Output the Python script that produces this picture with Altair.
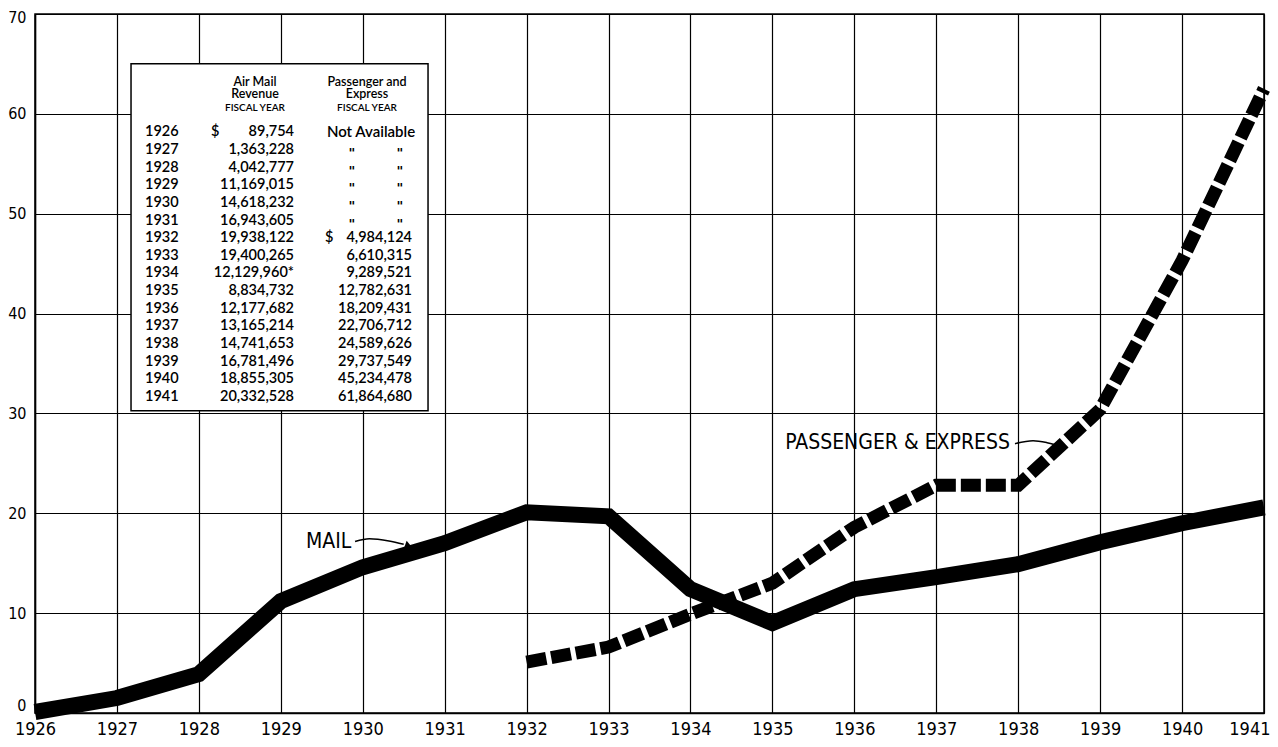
import altair as alt
import pandas as pd

# ---------------- data (millions of dollars) ----------------
years = list(range(1926, 1942))
mail_values = [0.1, 1.5, 3.9, 11.2, 14.6, 17.0, 20.1, 19.7, 12.4, 9.0, 12.4, 13.6, 14.9, 17.1, 19.0, 20.6]
pax_years = list(range(1932, 1942))
pax_values = [5.1, 6.6, 9.9, 13.0, 18.6, 22.8, 22.8, 30.4, 45.3, 62.5]

# table printed on the chart
table_years = [str(y) for y in years]
table_mail = ["89,754", "1,363,228", "4,042,777", "11,169,015", "14,618,232", "16,943,605",
              "19,938,122", "19,400,265", "12,129,960*", "8,834,732", "12,177,682", "13,165,214",
              "14,741,653", "16,781,496", "18,855,305", "20,332,528"]
table_pax = ["4,984,124", "6,610,315", "9,289,521", "12,782,631", "18,209,431", "22,706,712",
             "24,589,626", "29,737,549", "45,234,478", "61,864,680"]
header_mail = ["Air Mail", "Revenue", "FISCAL YEAR"]
header_pax = ["Passenger and", "Express", "FISCAL YEAR"]

y_ticks = [0, 10, 20, 30, 40, 50, 60, 70]

# ---------------- layout (in data units) ----------------
BOX = dict(x=1927.172, x2=1930.797, y=65.03, y2=30.27)
COL_YEAR = 1927.343
COL_DOLLAR = 1928.148
COL_MAIL = 1929.161
COL_DOLLAR2 = 1929.540
COL_PAX = 1930.601
COL_NA = 1930.101
COL_DITTO = [1929.869, 1930.455]
HEAD_X = [1928.685, 1930.052]
HEAD_Y = [63.24, 61.94, 60.54]
ROW_Y0 = 58.14
ROW_STEP = 1.765

AXIS_FONT = "'DejaVu Sans Condensed', 'Liberation Sans Narrow', 'DejaVu Sans', sans-serif"
TABLE_FONT = "Lato, 'Open Sans', sans-serif"

X = lambda f="x": alt.X(f"{f}:Q", scale=alt.Scale(domain=[1926, 1941], nice=False, zero=False),
                        axis=alt.Axis(values=years, format="d", title=None))
Y = lambda f="y": alt.Y(f"{f}:Q", scale=alt.Scale(domain=[0, 70], nice=False),
                        axis=alt.Axis(values=y_ticks, title=None))

mail_df = pd.DataFrame({"x": years, "y": mail_values})
pax_df = pd.DataFrame({"x": pax_years, "y": pax_values})

mail_line = alt.Chart(mail_df).mark_line(color="black", strokeWidth=16, strokeJoin="miter",
                                         strokeCap="butt").encode(x=X(), y=Y())
pax_line = alt.Chart(pax_df).mark_line(color="black", strokeWidth=13, strokeDash=[20, 5],
                                       strokeJoin="miter", strokeCap="butt").encode(x=X(), y=Y())

# table box
box = alt.Chart(pd.DataFrame([BOX])).mark_rect(fill="white", stroke="black", strokeWidth=1.5).encode(
    x=X("x"), x2="x2", y=Y("y"), y2="y2")

rows_y = [ROW_Y0 - i * ROW_STEP for i in range(len(years))]

left_txt = [{"x": COL_YEAR, "y": rows_y[i], "t": table_years[i]} for i in range(len(years))]
left_txt += [{"x": COL_DOLLAR, "y": rows_y[0], "t": "$"},
             {"x": COL_DOLLAR2, "y": rows_y[6], "t": "$"}]
right_txt = [{"x": COL_MAIL, "y": rows_y[i], "t": table_mail[i]} for i in range(len(years))]
right_txt += [{"x": COL_PAX, "y": rows_y[6 + i], "t": table_pax[i]} for i in range(len(table_pax))]
center_txt = [{"x": COL_NA, "y": rows_y[0], "t": "Not Available"}]
ditto_txt = [{"x": cx, "y": rows_y[i] - 0.3, "t": '"'} for i in range(1, 6) for cx in COL_DITTO]
head_big = [{"x": HEAD_X[0], "y": HEAD_Y[j], "t": header_mail[j]} for j in range(2)]
head_big += [{"x": HEAD_X[1], "y": HEAD_Y[j], "t": header_pax[j]} for j in range(2)]
head_small = [{"x": HEAD_X[k], "y": HEAD_Y[2], "t": "FISCAL YEAR"} for k in range(2)]


def text_layer(rows, align, size, weight=600, font=TABLE_FONT):
    return alt.Chart(pd.DataFrame(rows)).mark_text(
        align=align, baseline="middle", font=font, fontSize=size, fontWeight=weight,
        color="black"
    ).encode(x=X(), y=Y(), text="t:N")


table_layers = [
    text_layer(left_txt, "left", 14.5),
    text_layer(right_txt, "right", 14.5),
    text_layer(center_txt, "center", 15),
    text_layer(ditto_txt, "center", 13, "bold", "'DejaVu Sans', sans-serif"),
    text_layer(head_big, "center", 12.5),
    text_layer(head_small, "center", 10),
]

# annotations
labels_df = pd.DataFrame({"x": [1929.86, 1937.90], "y": [17.08, 27.07],
                          "t": ["MAIL", "PASSENGER & EXPRESS"]})
labels = alt.Chart(labels_df).mark_text(align="right", baseline="middle", font=AXIS_FONT,
                                        fontSize=21, color="black").encode(x=X(), y=Y(), text="t:N")

arrow_df = pd.DataFrame({
    "x": [1929.906, 1930.080, 1930.320, 1930.500, 1937.961, 1938.181, 1938.352, 1938.45],
    "y": [17.18, 17.45, 17.23, 16.90, 26.97, 27.27, 27.07, 26.87],
    "g": ["m"] * 4 + ["p"] * 4,
    "o": [0, 1, 2, 3, 0, 1, 2, 3],
})
arrows = alt.Chart(arrow_df).mark_line(color="black", strokeWidth=1.6, interpolate="monotone").encode(
    x=X(), y=Y(), detail="g:N", order="o:Q")
heads_df = pd.DataFrame({"x": [1930.56, 1938.52], "y": [16.72, 26.62]})
heads = alt.Chart(heads_df).mark_point(shape="triangle-right", filled=True, color="black", size=70,
                                       angle=20, opacity=1).encode(x=X(), y=Y())

chart = alt.layer(box, *table_layers, pax_line, mail_line, arrows, heads, labels).properties(
    width=1229, height=699,
    autosize=alt.AutoSizeParams(type="none"),
    padding={"left": 27, "top": 6, "right": 6, "bottom": 26},
    background="white",
).configure_view(stroke="black", strokeWidth=1.5).configure_axis(
    grid=True, gridColor="black", gridOpacity=1, gridWidth=1.2,
    domain=True, domainColor="black", domainWidth=1.5,
    ticks=False, labelColor="black", labelFont=AXIS_FONT,
).configure_axisX(
    labelFontSize=18, labelPadding=7, labelFlush=False,
    labelAlign={"condition": {"test": "datum.value == 1941", "value": "right"}, "value": "center"},
    labelOffset={"condition": {"test": "datum.value == 1941", "value": 6}, "value": 0},
).configure_axisY(
    labelFontSize=16, labelPadding=9,
    labelOffset={"condition": {"test": "datum.value == 70", "value": 3},
                 "value": 0},
    labelBaseline={"condition": {"test": "datum.value == 0", "value": "bottom"}, "value": "middle"},
)

chart.save("out.html", embed_options={"renderer": "svg", "actions": False})
